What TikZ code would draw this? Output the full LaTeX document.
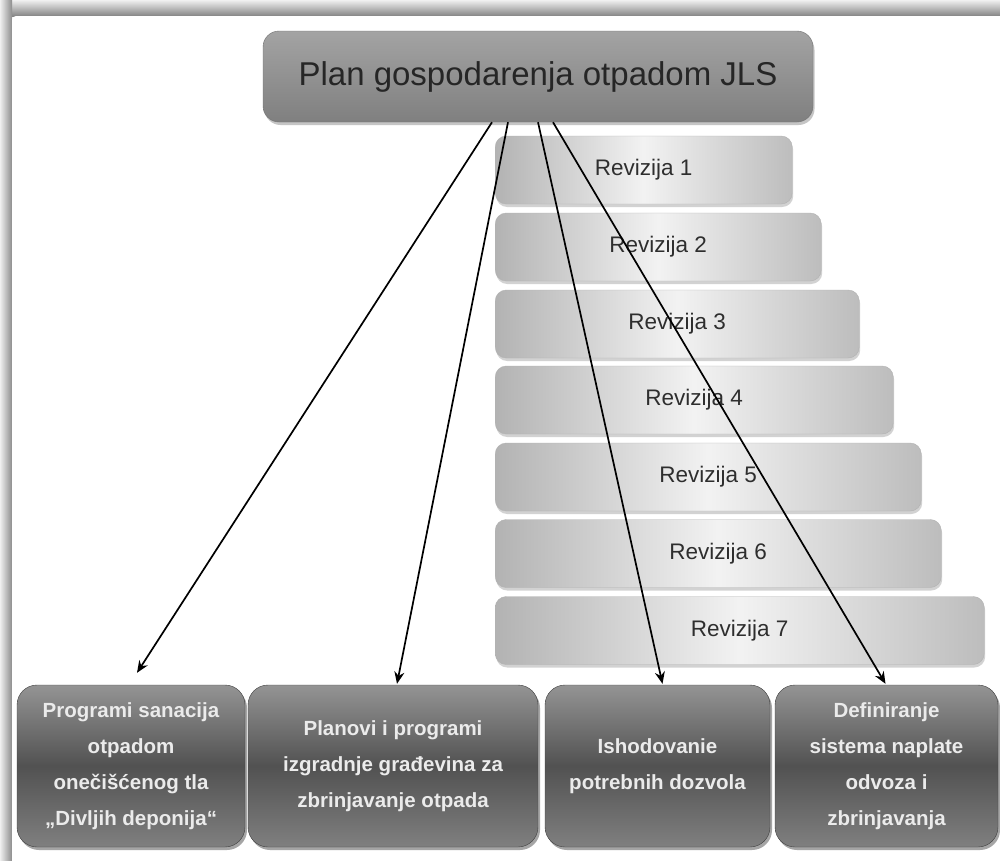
\documentclass[tikz,border=0pt]{standalone}
\usepackage{fontspec}
\setmainfont{Liberation Sans}
\usetikzlibrary{arrows.meta,shadows}
\begin{document}
\begin{tikzpicture}[x=1pt,y=-1pt,
  topbox/.style={rectangle, rounded corners=16pt, inner sep=0pt,
     minimum width=550pt, minimum height=91pt,
     top color=black!36, bottom color=black!50, draw=black!55,
     drop shadow={shadow xshift=1.5pt, shadow yshift=-3pt, fill=black!45},
     text=black!85, font=\fontsize{33}{36}\selectfont},
  revbox/.style={rectangle, rounded corners=11pt, inner sep=0pt,
     minimum height=68pt, anchor=west,
     left color=black!30, right color=black!26, middle color=black!5,
     draw=black!30,
     drop shadow={shadow xshift=1pt, shadow yshift=-3pt, fill=black!35},
     text=black!82, font=\fontsize{22.5}{26}\selectfont},
  botbox/.style={rectangle, rounded corners=20pt, inner sep=0pt,
     minimum height=162pt, align=center,
     top color=black!42, bottom color=black!50, middle color=black!68,
     draw=black!75,
     drop shadow={shadow xshift=2pt, shadow yshift=-3pt, fill=black!70},
     text=black!8, font=\bfseries\fontsize{20.5}{36}\selectfont},
  arr/.style={-{Stealth[length=12pt,width=10pt]}, line width=1.7pt, black}
]
\useasboundingbox (0,0) rectangle (1000,860);
% frame
\fill[top color=black!6, bottom color=black!48] (0,0) rectangle (1000,16);
\fill[left color=black!6, right color=black!45] (0,0) rectangle (12,860);
\fill[white, rounded corners=4pt] (12,16) rectangle (1010,870);
\fill[white] (20,16) rectangle (1000,860);
\fill[white] (12,30) rectangle (1000,860);

% top node
\node[topbox] (top) at (538,76.5) {Plan gospodarenja otpadom JLS};

% revisions
\node[revbox, minimum width=297pt] (r1) at (495,170) {Revizija 1};
\node[revbox, minimum width=326pt] (r2) at (495,247) {Revizija 2};
\node[revbox, minimum width=364pt] (r3) at (495,324) {Revizija 3};
\node[revbox, minimum width=398pt] (r4) at (495,400) {Revizija 4};
\node[revbox, minimum width=426pt] (r5) at (495,477) {Revizija 5};
\node[revbox, minimum width=446pt] (r6) at (495,553.5) {Revizija 6};
\node[revbox, minimum width=489pt] (r7) at (495,630.5) {Revizija 7};

% bottom boxes
\node[botbox, minimum width=228pt] (b1) at (131,766)
  {Programi sanacija\\otpadom\\onečišćenog tla\\„Divljih deponija“};
\node[botbox, minimum width=290pt] (b2) at (393,766)
  {Planovi i programi\\izgradnje građevina za\\zbrinjavanje otpada};
\node[botbox, minimum width=225pt] (b3) at (657.5,766)
  {Ishodovanie\\potrebnih dozvola};
\node[botbox, minimum width=223pt] (b4) at (886.5,766)
  {Definiranje\\sistema naplate\\odvoza i\\zbrinjavanja};

% connectors
\draw[arr] ([xshift=-46pt]top.south) -- ([xshift=6pt,yshift=12pt]b1.north);
\draw[arr] ([xshift=-30pt]top.south) -- ([xshift=4pt,yshift=1pt]b2.north);
\draw[arr] ([xshift=0pt]top.south) -- ([xshift=5pt,yshift=1pt]b3.north);
\draw[arr] ([xshift=15pt]top.south) -- ([xshift=-1pt,yshift=1pt]b4.north);
\end{tikzpicture}
\end{document}
